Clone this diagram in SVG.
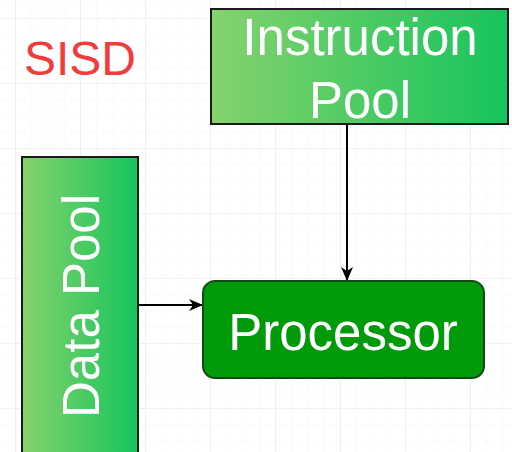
<svg xmlns="http://www.w3.org/2000/svg" width="512" height="452" viewBox="0 0 512 452">
  <defs>
    <pattern id="minorGrid" x="15" y="18" width="16.25" height="16.25" patternUnits="userSpaceOnUse">
      <path d="M0 0H16.25M0 0V16.25" fill="none" stroke="#f5f5f5" stroke-width="1"/>
    </pattern>
    <pattern id="majorGrid" x="15" y="18" width="65" height="65" patternUnits="userSpaceOnUse">
      <path d="M0 0H65M0 0V65" fill="none" stroke="#e8e8e8" stroke-width="1.2"/>
    </pattern>
    <linearGradient id="poolFill" x1="0" y1="0" x2="1" y2="0">
      <stop offset="0" stop-color="#86d26d"/>
      <stop offset="1" stop-color="#16c45c"/>
    </linearGradient>
    <marker id="arrowHead" viewBox="0 0 14 12" refX="13" refY="6" markerWidth="14" markerHeight="12" markerUnits="userSpaceOnUse" orient="auto">
      <path d="M0 0L14 6L0 12L4 6Z" fill="#000"/>
    </marker>
  </defs>
  <style>
    .pool { fill: url(#poolFill); stroke: #1b1b1b; stroke-width: 2; }
    .label { font-family: "Liberation Sans", Arial, sans-serif; font-size: 51px; fill: #ffffff; text-anchor: middle; }
    .edge { fill: none; stroke: #000; stroke-width: 2; marker-end: url(#arrowHead); }
  </style>

  <!-- canvas grid -->
  <rect width="512" height="452" fill="#ffffff"/>
  <rect width="512" height="452" fill="url(#minorGrid)"/>
  <rect width="512" height="452" fill="url(#majorGrid)"/>

  <!-- title -->
  <text x="80" y="75" font-family="Liberation Sans, Arial, sans-serif" font-size="48" fill="#f23b3b" text-anchor="middle">SISD</text>

  <!-- connectors -->
  <g id="connectors">
    <path class="edge" d="M347 125V280"/>
    <path class="edge" d="M138 305H202"/>
  </g>

  <g id="instruction-pool">
    <rect class="pool" x="211" y="9" width="297" height="115"/>
    <text class="label" x="360" y="55">Instruction</text>
    <text class="label" x="360" y="118">Pool</text>
  </g>

  <g id="data-pool">
    <rect class="pool" x="22" y="157" width="116" height="310"/>
    <text class="label" transform="translate(99 306) rotate(-90)" x="0" y="0">Data Pool</text>
  </g>

  <g id="processor">
    <rect x="203" y="281" width="281" height="97" rx="12" ry="12" fill="#009a0a" stroke="#0f4d12" stroke-width="2"/>
    <text class="label" x="343" y="350">Processor</text>
  </g>
</svg>
